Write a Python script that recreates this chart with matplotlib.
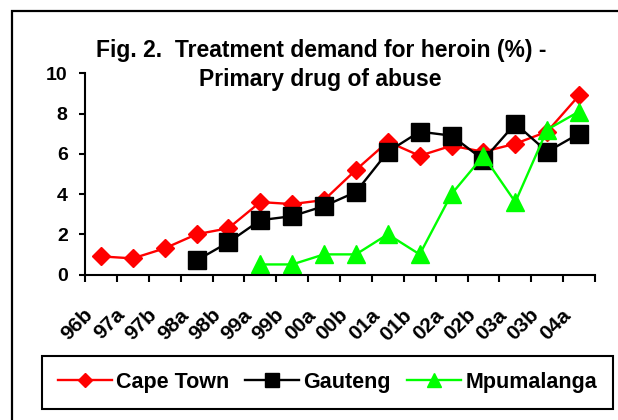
import numpy as np
import matplotlib
matplotlib.use('Agg')
import matplotlib.pyplot as plt
from matplotlib.patches import Rectangle
from matplotlib.transforms import ScaledTranslation

plt.rcParams['font.family'] = ['Liberation Sans', 'DejaVu Sans']
plt.rcParams['font.weight'] = 'bold'

periods = ['96b', '97a', '97b', '98a', '98b', '99a', '99b', '00a',
           '00b', '01a', '01b', '02a', '02b', '03a', '03b', '04a']
cape_town = [0.9, 0.8, 1.3, 2.0, 2.3, 3.6, 3.5, 3.7,
             5.2, 6.6, 5.9, 6.4, 6.1, 6.5, 7.1, 8.9]
gauteng = [np.nan, np.nan, np.nan, 0.7, 1.6, 2.7, 2.9, 3.4,
           4.1, 6.1, 7.1, 6.9, 5.7, 7.5, 6.1, 7.0]
mpumalanga = [np.nan, np.nan, np.nan, np.nan, np.nan, 0.5, 0.5, 1.0,
              1.0, 2.0, 1.0, 4.0, 5.9, 3.6, 7.2, 8.1]
y_ticks = [0, 2, 4, 6, 8, 10]

W, H = 618, 420
fig = plt.figure(figsize=(W / 100, H / 100), dpi=100)
ax = fig.add_axes([85 / W, 1 - 274.5 / H, 510 / W, 201.2 / H])

x = np.arange(len(periods))
ax.plot(x, cape_town, color='#FF0000', lw=1.7, marker='D', ms=9.5, clip_on=False, label='Cape Town')
ax.plot(x, gauteng, color='black', lw=1.7, marker='s', ms=13, clip_on=False, label='Gauteng')
ax.plot(x, mpumalanga, color='#00FF00', lw=1.7, marker='^', ms=13, clip_on=False, label='Mpumalanga')

ax.set_xlim(-0.5, len(periods) - 0.5)
ax.set_ylim(0, 10)
ax.set_yticks(y_ticks)
ax.set_xticks(x)
ax.set_xticklabels(periods, rotation=45, ha='right', va='center', rotation_mode='anchor')
ax.set_xticks(np.arange(len(periods) + 1) - 0.5, minor=True)
ax.tick_params(axis='x', which='major', length=0, pad=27, labelsize=15)
ax.tick_params(axis='x', which='minor', length=5, width=1.5, direction='out')
ax.tick_params(axis='y', length=4.5, width=1.5, pad=8, labelsize=14)
for lbl in ax.get_xticklabels():
    lbl.set_transform(lbl.get_transform() + ScaledTranslation(-0.11, 0, fig.dpi_scale_trans))

for s in ['top', 'right']:
    ax.spines[s].set_visible(False)
for s in ['left', 'bottom']:
    ax.spines[s].set_linewidth(1.5)

# title, two lines centred a bit left of the axes centre
fig.text(321 / W, 1 - 57.3 / H, 'Fig. 2.  Treatment demand for heroin (%) -',
         ha='center', va='baseline', fontsize=16.5, fontweight='bold')
fig.text(320 / W, 1 - 86 / H, 'Primary drug of abuse',
         ha='center', va='baseline', fontsize=16.5, fontweight='bold')

leg = fig.legend(loc='center', bbox_to_anchor=(327.5 / W, 1 - 382.5 / H), ncol=3,
                 fontsize=15.5, frameon=True, fancybox=False, framealpha=1,
                 edgecolor='black', handlelength=2.5, handletextpad=0.2,
                 columnspacing=0.75, borderpad=0.75, markerscale=0.75)
leg.get_frame().set_linewidth(1.5)

# outer chart border (runs off the right and bottom edge)
fig.patches.append(Rectangle((11.5 / W, -0.1), 1.2, 1.1 - 11.5 / H, transform=fig.transFigure,
                             fill=False, edgecolor='black', lw=1.6))

fig.savefig('out.png', dpi=100)
